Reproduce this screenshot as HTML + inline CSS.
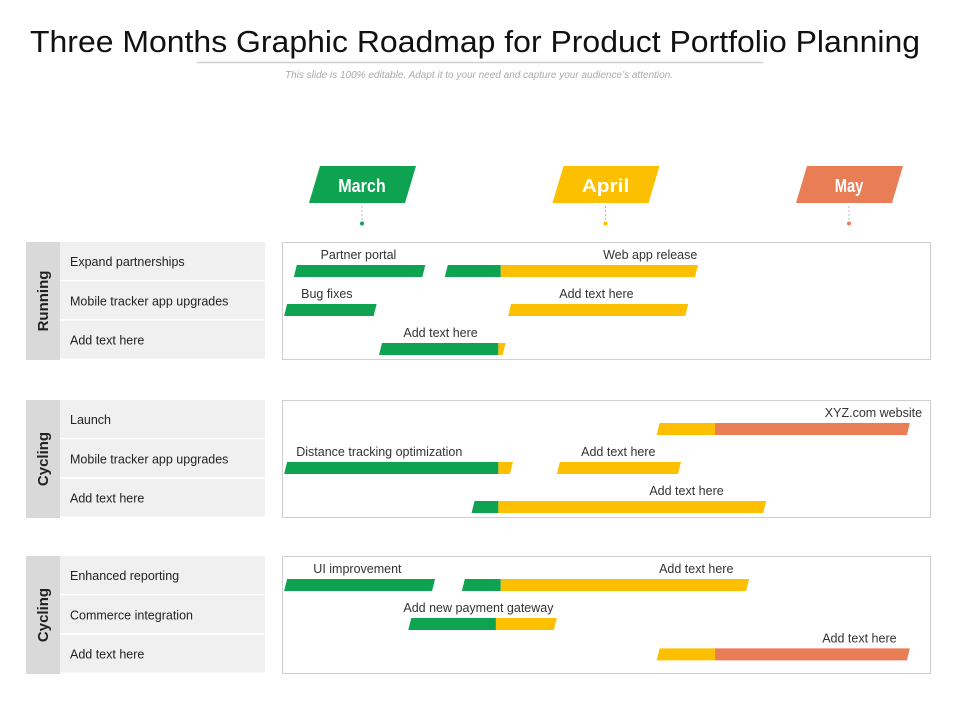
<!DOCTYPE html>
<html><head><meta charset="utf-8"><style>
body{margin:0;background:#fff;width:960px;height:720px;overflow:hidden;font-family:"Liberation Sans",Arial,sans-serif}
svg{display:block}
</style></head><body>
<svg id="chart" width="960" height="720">
<text x="475" y="52" font-size="31" text-anchor="middle" textLength="890" lengthAdjust="spacingAndGlyphs" fill="#111">Three Months Graphic Roadmap for Product Portfolio Planning</text>
<line x1="197" y1="62.5" x2="763" y2="62.5" stroke="#d0d0d0" stroke-width="1.5"/>
<text x="479" y="78" font-size="10" font-style="italic" text-anchor="middle" fill="#aaa">This slide is 100% editable. Adapt it to your need and capture your audience’s attention.</text>
<g id="months"></g><g id="groups"></g><g id="tasks"></g>
</svg>
<script>
const months=["March","April","May"];
const monthColors=["#0ea350","#fdc000","#e97d55"];
const groupNames=["Running","Cycling","Cycling"];
const rowLabels=[["Expand partnerships","Mobile tracker app upgrades","Add text here"],["Launch","Mobile tracker app upgrades","Add text here"],["Enhanced reporting","Commerce integration","Add text here"]];
// task: group, row slot, segments [start,end,colorIndex] in months from mid-March
const taskGroup=[0,0,0,0,0,1,1,1,1,2,2,2,2];
const taskSlot=[0,0,1,1,2,0,1,1,2,0,0,1,1.78];
const taskSegments=[
[[-0.28,0.26,0]],
[[0.34,0.57,0],[0.57,1.38,1]],
[[-0.32,0.06,0]],
[[0.60,1.34,1]],
[[0.07,0.56,0],[0.56,0.59,1]],
[[1.21,1.45,1],[1.45,2.25,2]],
[[-0.32,0.56,0],[0.56,0.62,1]],
[[0.80,1.31,1]],
[[0.45,0.56,0],[0.56,1.66,1]],
[[-0.32,0.30,0]],
[[0.41,0.57,0],[0.57,1.59,1]],
[[0.19,0.55,0],[0.55,0.80,1]],
[[1.21,1.45,1],[1.45,2.25,2]]];
const taskLabels=["Partner portal","Web app release","Bug fixes","Add text here","Add text here","XYZ.com  website","Distance tracking optimization","Add text here","Add text here","UI improvement","Add text here","Add new payment gateway","Add text here"];
const labelPos=[-0.17,0.99,-0.25,0.81,0.17,2.30,-0.27,0.90,1.18,-0.20,1.22,0.17,1.89];
const labelAnchor=["start","start","start","start","start","end","start","start","start","start","start","start","start"];

const NS="http://www.w3.org/2000/svg";
const xs=m=>362+m*243.5;
const groupTop=[242,400,556], rowH=39, panelH=118;
function mk(t,a,p){const e=document.createElementNS(NS,t);for(const k in a)e.setAttribute(k,a[k]);p.appendChild(e);return e;}
const gm=document.getElementById('months');
months.forEach((m,i)=>{const cx=xs(i);
 const p=mk('polygon',{points:`${cx-44},203 ${cx+54},203 ${cx+44},166 ${cx-54+10},166`.replace(`${cx-54+10},166`,`${cx-44+10},166`),fill:monthColors[i]},gm);
 p.setAttribute('points',`${cx-53},203 ${cx+43},203 ${cx+54},166 ${cx-42},166`);
 
 
 const t=mk('text',{x:cx,y:192,'font-size':18,'font-weight':'bold','text-anchor':'middle',fill:'#fff',textLength:m.length*9.5,lengthAdjust:'spacingAndGlyphs'},gm);t.textContent=m;
 
 
 const l=mk('line',{x1:cx,y1:206,x2:cx,y2:220,stroke:'#bbb','stroke-dasharray':'2,2'},gm);
 
 
 const d=mk('circle',{cx:cx,cy:223.5,r:2,fill:monthColors[i]},gm);
 
 
});
const gg=document.getElementById('groups');
groupNames.forEach((g,i)=>{const y0=groupTop[i];
 const b=mk('rect',{x:26,y:y0,width:34,height:panelH,fill:'#d9d9d9'},gg);
 
 
 const t=mk('text',{x:0,y:0,'font-size':15,'font-weight':'bold','text-anchor':'middle',fill:'#222',transform:`translate(48,${y0+panelH/2}) rotate(-90)`},gg);t.textContent=g;
 
 
 rowLabels[i].forEach((r,j)=>{const ry=y0+j*(panelH/3);
  const rr=mk('rect',{x:60,y:ry,width:205,height:panelH/3-1.5,fill:'#f0f0f0'},gg);
  
  
  const rt=mk('text',{x:70,y:ry+24,'font-size':12.5,fill:'#222'},gg);rt.textContent=r;
  
  
 });
 const pn=mk('rect',{x:282.5,y:y0+0.5,width:648,height:panelH-1,fill:'none',stroke:'#cfcfcf'},gg);
 
 
});
const gt=document.getElementById('tasks');
taskSegments.forEach((segs,k)=>{const top=groupTop[taskGroup[k]]+23+taskSlot[k]*rowH, h=12, sk=3;
 segs.forEach(([s,e,c],n)=>{const x1=xs(s),x2=xs(e);
  const l1=n===0?sk:0, r1=n===segs.length-1?sk:0;
  const p=mk('polygon',{points:`${x1},${top+h} ${x2-r1},${top+h} ${x2+0},${top} ${x1+l1},${top}`,fill:monthColors[c]},gt);
  
  
 });
 const t=mk('text',{x:xs(labelPos[k]),y:top-6,'font-size':12.5,fill:'#333','text-anchor':labelAnchor[k]},gt);t.textContent=taskLabels[k];
 
 
});
</script>
</body></html>
